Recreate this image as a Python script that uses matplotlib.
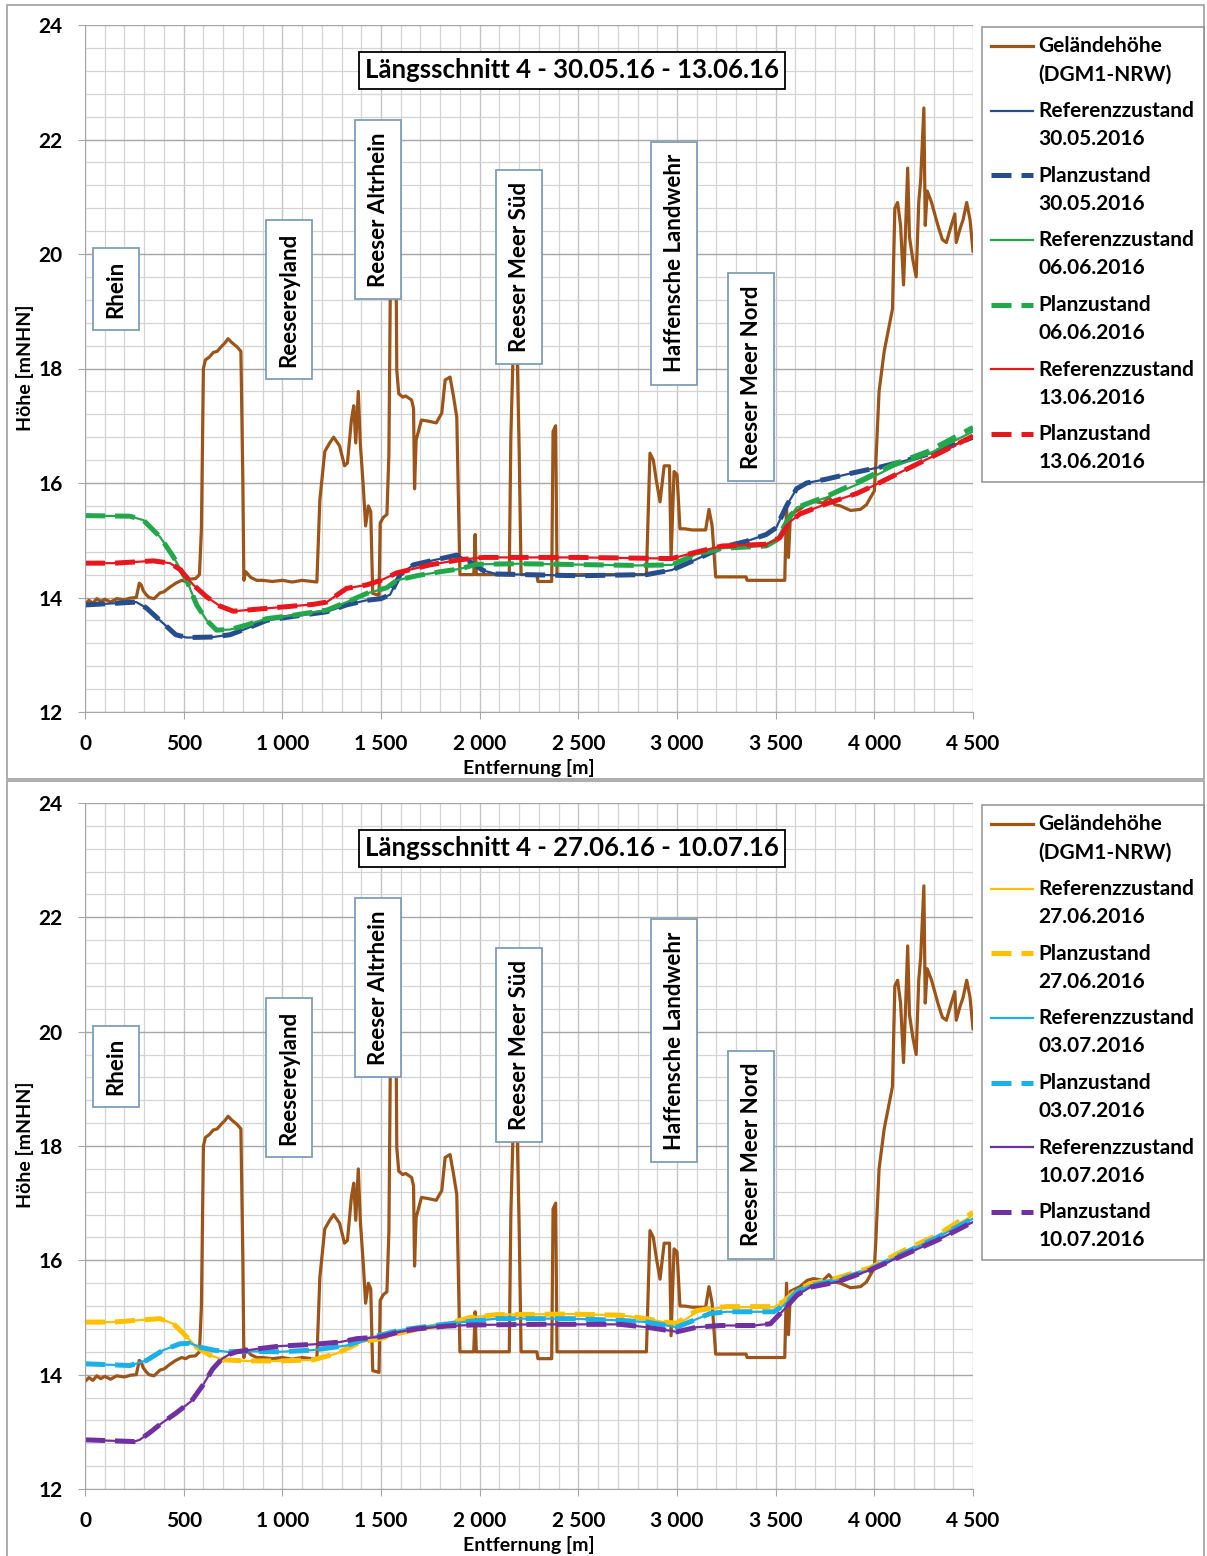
import matplotlib
matplotlib.use('Agg')
import matplotlib.pyplot as plt
from matplotlib.patches import Rectangle
from matplotlib.lines import Line2D
from matplotlib.legend_handler import HandlerLine2D
from matplotlib.ticker import MultipleLocator, FuncFormatter
import numpy as np

plt.rcParams['font.family'] = ['Lato', 'DejaVu Sans']

# ground profile (Geländehöhe, DGM1-NRW), same in both panels
ground_x = [0, 20, 40, 60, 80, 100, 130, 160, 200, 230, 260, 275, 285, 295, 310, 325,
            350, 380, 400, 430, 460, 490, 510, 530, 560, 580, 590, 600, 610, 630, 650,
            670, 690, 710, 725, 745, 770, 790, 800, 805, 815, 840, 870, 900, 950, 1000,
            1050, 1100, 1150, 1175, 1190, 1215, 1240, 1260, 1290, 1315, 1330, 1350,
            1362, 1372, 1385, 1395, 1410, 1422, 1436, 1448, 1458, 1490, 1496, 1512,
            1530, 1540, 1550, 1575, 1580, 1590, 1610, 1625, 1655, 1665, 1670, 1678,
            1705, 1740, 1780, 1808, 1825, 1850, 1868, 1884, 1900, 1970, 1977, 1983,
            2150, 2158, 2172, 2188, 2200, 2210, 2290, 2295, 2365, 2372, 2385, 2392,
            2845, 2863, 2880, 2895, 2914, 2935, 2962, 2970, 2985, 3000, 3015, 3040,
            3077, 3145, 3162, 3178, 3196, 3350, 3355, 3546, 3555, 3565, 3575, 3623,
            3660, 3691, 3740, 3770, 3800, 3828, 3880, 3930, 3960, 3981, 4000, 4007,
            4024, 4050, 4092, 4104, 4118, 4133, 4148, 4158, 4169, 4178, 4195, 4212,
            4225, 4235, 4251, 4258, 4268, 4290, 4322, 4345, 4365, 4390, 4408, 4415,
            4435, 4450, 4468, 4485, 4500]
ground_y = [13.88, 13.95, 13.9, 13.98, 13.93, 13.97, 13.92, 13.98, 13.96, 13.99, 14.0,
            14.25, 14.22, 14.12, 14.05, 14.0, 13.98, 14.08, 14.1, 14.18, 14.25, 14.3,
            14.28, 14.32, 14.33, 14.4, 15.2, 18.0, 18.15, 18.2, 18.28, 18.3, 18.38,
            18.45, 18.52, 18.45, 18.38, 18.3, 16.0, 14.3, 14.45, 14.35, 14.3, 14.3,
            14.28, 14.3, 14.27, 14.3, 14.28, 14.27, 15.7, 16.55, 16.7, 16.8, 16.65,
            16.3, 16.35, 17.1, 17.35, 16.7, 17.6, 16.7, 15.95, 15.25, 15.6, 15.5,
            14.07, 14.04, 15.3, 15.4, 15.45, 16.5, 20.5, 20.5, 17.97, 17.56, 17.5,
            17.52, 17.45, 17.3, 15.9, 16.75, 17.1, 17.08, 17.05, 17.22, 17.8, 17.85,
            17.5, 17.15, 14.4, 14.4, 15.1, 14.4, 14.4, 16.8, 18.6, 18.6, 16.6, 14.4,
            14.4, 14.28, 14.28, 16.9, 17.0, 14.4, 14.4, 16.52, 16.4, 16.05, 15.67,
            16.3, 16.3, 14.68, 16.2, 16.15, 15.2, 15.2, 15.18, 15.18, 15.54, 15.25,
            14.36, 14.36, 14.3, 14.3, 15.6, 14.7, 15.46, 15.54, 15.65, 15.68, 15.65,
            15.75, 15.62, 15.6, 15.52, 15.54, 15.62, 15.75, 15.86, 16.3, 17.6, 18.3,
            19.04, 20.8, 20.9, 20.5, 19.46, 20.4, 21.5, 20.3, 19.9, 19.6, 20.9, 21.3,
            22.55, 20.5, 21.1, 20.9, 20.5, 20.25, 20.2, 20.5, 20.7, 20.2, 20.45,
            20.6, 20.9, 20.6, 20.05]

# top panel: 30.05.16 - 13.06.16
ref_3005_x = [0, 260, 310, 380, 460, 515, 650, 735, 820, 920, 1055, 1225, 1325, 1425,
              1500, 1546, 1597, 1664, 1765, 1883, 1934, 2019, 2086, 2500, 2846, 2974,
              3094, 3230, 3350, 3452, 3503, 3555, 3606, 3657, 3760, 3896, 4032, 4169,
              4288, 4400, 4500]
ref_3005_y = [13.87, 13.92, 13.82, 13.6, 13.35, 13.3, 13.31, 13.35, 13.46, 13.6, 13.67,
              13.75, 13.87, 13.95, 13.98, 14.05, 14.4, 14.57, 14.65, 14.74, 14.66,
              14.47, 14.41, 14.38, 14.4, 14.48, 14.66, 14.88, 14.98, 15.1, 15.22, 15.6,
              15.9, 16.0, 16.07, 16.18, 16.28, 16.4, 16.52, 16.66, 16.8]
plan_3005_y = ref_3005_y

ref_0606_x = [0, 228, 296, 380, 448, 515, 566, 617, 667, 735, 819, 920, 1056, 1225,
              1326, 1427, 1529, 1580, 1681, 1800, 1900, 1985, 2200, 2800, 2974, 3094,
              3230, 3452, 3503, 3555, 3606, 3760, 3930, 4100, 4271, 4500]
ref_0606_y = [15.43, 15.42, 15.35, 15.06, 14.71, 14.3, 13.87, 13.6, 13.43, 13.44, 13.52,
              13.63, 13.69, 13.78, 13.92, 14.07, 14.17, 14.3, 14.38, 14.45, 14.5, 14.58,
              14.59, 14.56, 14.57, 14.75, 14.86, 14.9, 15.0, 15.32, 15.57, 15.75, 16.0,
              16.29, 16.5, 16.9]
plan_0606_y = [15.43, 15.42, 15.35, 15.06, 14.71, 14.3, 13.87, 13.6, 13.43, 13.44, 13.52,
               13.63, 13.69, 13.78, 13.92, 14.07, 14.17, 14.3, 14.38, 14.45, 14.5, 14.58,
               14.59, 14.56, 14.57, 14.75, 14.86, 14.9, 15.0, 15.32, 15.57, 15.77, 16.04,
               16.33, 16.55, 16.97]

ref_1306_x = [0, 150, 346, 431, 481, 549, 617, 684, 752, 920, 1157, 1225, 1326, 1427,
              1500, 1580, 1748, 1900, 2019, 2500, 2974, 3094, 3230, 3452, 3520, 3572,
              3623, 3760, 3913, 4000, 4169, 4340, 4500]
ref_1306_y = [14.6, 14.6, 14.64, 14.6, 14.49, 14.22, 14.01, 13.85, 13.76, 13.81, 13.88,
              13.92, 14.16, 14.22, 14.3, 14.43, 14.57, 14.66, 14.7, 14.7, 14.68, 14.79,
              14.9, 14.93, 15.04, 15.32, 15.46, 15.64, 15.82, 15.96, 16.25, 16.54, 16.82]
plan_1306_y = ref_1306_y

# bottom panel: 27.06.16 - 10.07.16
ref_2706_x = [0, 144, 380, 448, 499, 566, 634, 701, 819, 988, 1157, 1275, 1343, 1394,
              1495, 1597, 1664, 1833, 1951, 2086, 2458, 2712, 2847, 2931, 2999, 3050,
              3100, 3168, 3253, 3490, 3540, 3608, 3675, 3810, 3979, 4148, 4318, 4500]
ref_2706_y = [14.92, 14.92, 14.98, 14.89, 14.72, 14.48, 14.34, 14.26, 14.24, 14.24,
              14.26, 14.37, 14.48, 14.57, 14.63, 14.73, 14.78, 14.89, 15.0, 15.05,
              15.06, 15.04, 14.98, 14.92, 14.88, 14.98, 15.1, 15.15, 15.18, 15.18,
              15.27, 15.48, 15.59, 15.68, 15.85, 16.15, 16.41, 16.79]
plan_2706_y = [14.92, 14.92, 14.98, 14.89, 14.72, 14.48, 14.34, 14.26, 14.24, 14.24,
               14.26, 14.37, 14.48, 14.57, 14.63, 14.73, 14.78, 14.89, 15.0, 15.05,
               15.06, 15.04, 14.98, 14.92, 14.9, 15.02, 15.12, 15.16, 15.19, 15.19,
               15.28, 15.48, 15.59, 15.69, 15.87, 16.17, 16.44, 16.84]

ref_0307_x = [0, 228, 312, 397, 481, 532, 583, 651, 718, 819, 988, 1157, 1326, 1427,
              1597, 1749, 1917, 2086, 2458, 2712, 2847, 2999, 3084, 3168, 3253, 3490,
              3540, 3608, 3675, 3810, 3979, 4148, 4318, 4500]
ref_0307_y = [14.19, 14.16, 14.25, 14.43, 14.54, 14.55, 14.48, 14.43, 14.4, 14.41, 14.4,
              14.43, 14.51, 14.63, 14.78, 14.85, 14.92, 14.98, 14.98, 14.95, 14.92,
              14.83, 14.95, 15.07, 15.1, 15.1, 15.21, 15.45, 15.56, 15.65, 15.84, 16.12,
              16.4, 16.73]
plan_0307_y = ref_0307_y

ref_1007_x = [0, 249, 277, 326, 384, 462, 540, 598, 647, 695, 734, 769, 870, 988, 1157,
              1292, 1377, 1495, 1597, 1681, 1833, 1968, 2306, 2712, 2847, 2999, 3100,
              3219, 3388, 3473, 3540, 3608, 3675, 3810, 3979, 4148, 4318, 4500]
ref_1007_y = [12.86, 12.83, 12.86, 12.98, 13.14, 13.33, 13.54, 13.82, 14.1, 14.28, 14.36,
              14.4, 14.45, 14.5, 14.53, 14.57, 14.63, 14.66, 14.75, 14.8, 14.85, 14.87,
              14.88, 14.88, 14.83, 14.75, 14.83, 14.86, 14.86, 14.89, 15.13, 15.39,
              15.53, 15.62, 15.83, 16.09, 16.35, 16.67]
plan_1007_y = ref_1007_y

place_labels = ['Rhein', 'Reesereyland', 'Reeser Altrhein', 'Reeser Meer Süd',
                'Haffensche Landwehr', 'Reeser Meer Nord']
place_pos = [(157, 19.39), (1034, 19.2), (1485, 20.77), (2200, 19.77), (2985, 19.84),
             (3375, 17.85)]

BROWN = '#9C5418'
W, H = 1207, 1556
fig = plt.figure(figsize=(W / 100, H / 100), dpi=100)

# panel frames
for top, bot in [(5, 779), (781, 1560)]:
    fig.add_artist(Rectangle((7 / W, 1 - bot / H), (1204 - 7) / W, (bot - top) / H,
                             transform=fig.transFigure, fill=False, ec='#A6A6A6', lw=1.3))


class FirstLineHandler(HandlerLine2D):
    # put the legend line next to the first of the two label lines
    def create_artists(self, legend, orig_handle, xdescent, ydescent, width, height,
                       fontsize, trans):
        return super().create_artists(legend, orig_handle, xdescent,
                                      ydescent - 1.45 * fontsize, width, height,
                                      fontsize, trans)


def thousands(v, pos):
    return f"{int(v):,}".replace(',', ' ')


def draw_panel(ax_rect, title, series, leg_top, lab_y):
    ax = fig.add_axes(ax_rect)
    ax.plot(ground_x, ground_y, color=BROWN, lw=2.3, label='Geländehöhe\n(DGM1-NRW)')
    for x, yref, yplan, col, date in series:
        ax.plot(x, yref, color=col, lw=1.6, label='Referenzzustand\n' + date)
        ax.plot(x, yplan, color=col, lw=3.6, dashes=(4, 2), label='Planzustand\n' + date)
    ax.set_xlim(0, 4500)
    ax.set_ylim(12, 24)
    ax.xaxis.set_major_locator(MultipleLocator(500))
    ax.xaxis.set_minor_locator(MultipleLocator(100))
    ax.yaxis.set_major_locator(MultipleLocator(2))
    ax.yaxis.set_minor_locator(MultipleLocator(0.4))
    ax.xaxis.set_major_formatter(FuncFormatter(thousands))
    ax.grid(which='major', axis='y', color='#A6A6A6', lw=1.0)
    ax.grid(which='major', axis='x', color='#C4C4C4', lw=1.0)
    ax.grid(which='minor', color='#D4D4D4', lw=0.9)
    ax.set_axisbelow(True)
    for s in ['top', 'right']:
        ax.spines[s].set_visible(False)
    for s in ['left', 'bottom']:
        ax.spines[s].set_color('#A6A6A6')
    ax.tick_params(which='major', length=5, color='#A6A6A6', labelsize=15, pad=11)
    ax.tick_params(which='minor', length=0)
    for lab in ax.get_xticklabels() + ax.get_yticklabels():
        lab.set_fontweight('bold')

    ax.text(2468, 23.21, title, ha='center', va='center', fontsize=18.5,
            fontweight='bold', zorder=6,
            bbox=dict(boxstyle='square,pad=0.25', fc='white', ec='black', lw=1.3))
    for txt, (px, py) in zip(place_labels, place_pos):
        ax.text(px, py, txt, rotation=90, ha='center', va='center', fontsize=16,
                fontweight='bold', zorder=6,
                bbox=dict(boxstyle='square,pad=0.55', fc='white', ec='#7F9DB9', lw=1.3))

    fig.text(25 / W, 1 - lab_y[0] / H, 'Höhe [mNHN]', rotation=90, ha='center',
             va='center', fontsize=14, fontweight='bold')
    fig.text(529 / W, 1 - lab_y[1] / H, 'Entfernung [m]', ha='center', va='center',
             fontsize=14, fontweight='bold')

    leg = fig.legend(*ax.get_legend_handles_labels(), loc='upper left',
                     bbox_to_anchor=(982 / W, 1 - leg_top / H), fontsize=15,
                     frameon=True, fancybox=False, edgecolor='#808080',
                     handlelength=2.0, handletextpad=0.25, labelspacing=0.8,
                     borderpad=0.45, borderaxespad=0,
                     handler_map={Line2D: FirstLineHandler()})
    leg.get_frame().set_linewidth(1.2)
    for t in leg.get_texts():
        t.set_fontweight('bold')
        t.set_linespacing(1.5)
    return ax


draw_panel([85 / W, 1 - 712 / H, 888 / W, 687 / H],
           'Längsschnitt 4 - 30.05.16 - 13.06.16',
           [(ref_3005_x, ref_3005_y, plan_3005_y, '#264D8C', '30.05.2016'),
            (ref_0606_x, ref_0606_y, plan_0606_y, '#22A84A', '06.06.2016'),
            (ref_1306_x, ref_1306_y, plan_1306_y, '#E8161D', '13.06.2016')],
           27, (368, 768))

draw_panel([85 / W, 1 - 1489 / H, 888 / W, 686 / H],
           'Längsschnitt 4 - 27.06.16 - 10.07.16',
           [(ref_2706_x, ref_2706_y, plan_2706_y, '#FFC000', '27.06.2016'),
            (ref_0307_x, ref_0307_y, plan_0307_y, '#1CB0E8', '03.07.2016'),
            (ref_1007_x, ref_1007_y, plan_1007_y, '#7030A0', '10.07.2016')],
           805, (1145, 1545))

fig.savefig('out.png', dpi=100)
